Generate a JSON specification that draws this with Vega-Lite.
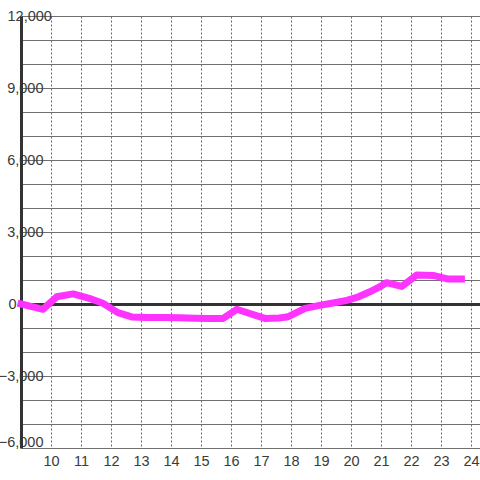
{
  "$schema": "https://vega.github.io/schema/vega-lite/v6.json",
  "width": 459,
  "height": 432,
  "autosize": {"type": "none"},
  "padding": {"left": 21, "top": 16, "right": 0, "bottom": 32},
  "background": "white",
  "config": {"view": {"stroke": null}, "font": "Liberation Sans"},
  "data": {
    "values": [
      {"t": 9.0, "v": 0},
      {"t": 9.73, "v": -220},
      {"t": 10.19, "v": 300},
      {"t": 10.74, "v": 420},
      {"t": 11.36, "v": 200},
      {"t": 11.73, "v": 30},
      {"t": 12.23, "v": -360},
      {"t": 12.69, "v": -540},
      {"t": 13.2, "v": -560},
      {"t": 13.8, "v": -560},
      {"t": 14.3, "v": -570},
      {"t": 14.8, "v": -590},
      {"t": 15.3, "v": -600},
      {"t": 15.74, "v": -600},
      {"t": 16.19, "v": -220},
      {"t": 17.13, "v": -600},
      {"t": 17.6, "v": -580},
      {"t": 17.91, "v": -530},
      {"t": 18.47, "v": -180},
      {"t": 18.95, "v": -60},
      {"t": 19.4, "v": 40},
      {"t": 19.86, "v": 150},
      {"t": 20.25, "v": 300},
      {"t": 20.63, "v": 510},
      {"t": 20.9, "v": 680},
      {"t": 21.19, "v": 890},
      {"t": 21.69, "v": 730},
      {"t": 22.19, "v": 1210},
      {"t": 22.74, "v": 1190},
      {"t": 23.24, "v": 1040},
      {"t": 23.68, "v": 1040}
    ]
  },
  "mark": {"type": "line", "color": "#ff33ff", "strokeWidth": 7, "strokeCap": "square", "strokeJoin": "round", "clip": false},
  "encoding": {
    "x": {
      "field": "t",
      "type": "quantitative",
      "scale": {"domain": [9, 24.3], "nice": false, "zero": false},
      "axis": {
        "title": null,
        "values": [10, 11, 12, 13, 14, 15, 16, 17, 18, 19, 20, 21, 22, 23, 24],
        "grid": true,
        "gridDash": [2, 2],
        "gridColor": "#666666",
        "gridWidth": 1,
        "domain": false,
        "ticks": false,
        "tickSize": 0,
        "labelPadding": 6,
        "labelFontSize": 14.5,
        "labelColor": "#3a3a3a",
        "labelFlush": false
      }
    },
    "y": {
      "field": "v",
      "type": "quantitative",
      "scale": {"domain": [-6000, 12000], "nice": false, "zero": false},
      "axis": {
        "title": null,
        "values": [-6000, -5000, -4000, -3000, -2000, -1000, 0, 1000, 2000, 3000, 4000, 5000, 6000, 7000, 8000, 9000, 10000, 11000, 12000],
        "labelExpr": "datum.value % 3000 == 0 ? format(datum.value, ',') : ''",
        "grid": true,
        "gridColor": {"condition": {"test": "datum.value == 0", "value": "#333333"}, "value": "#6f6f6f"},
        "gridWidth": {"condition": {"test": "datum.value == 0", "value": 3}, "value": 1},
        "domain": true,
        "domainColor": "#333333",
        "domainWidth": 3,
        "ticks": false,
        "tickSize": 0,
        "labelAlign": {"condition": {"test": "datum.value == 12000", "value": "left"}, "value": "right"},
        "labelPadding": {"condition": [{"test": "datum.value == 12000", "value": 14}, {"test": "datum.value == 0", "value": 5}], "value": -22},
        "labelOffset": {"condition": {"test": "datum.value == -6000", "value": -6}, "value": 0},
        "labelFontSize": 14.5,
        "labelColor": "#3a3a3a",
        "labelFlush": false
      }
    }
  }
}
